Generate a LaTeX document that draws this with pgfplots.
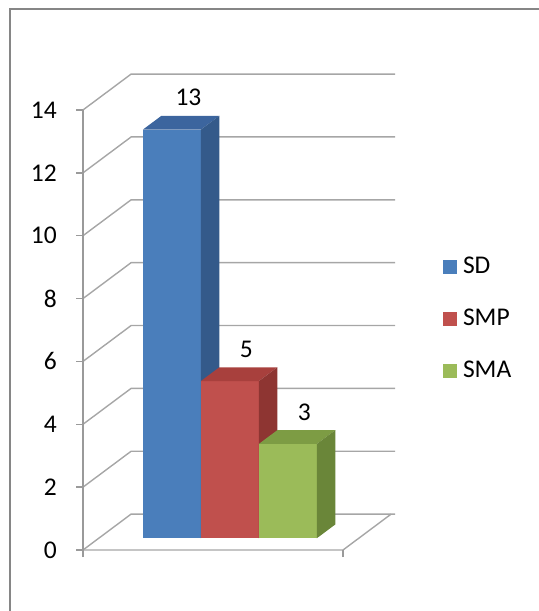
\documentclass[border=0pt]{standalone}
\usepackage{pgfplots}
\pgfplotsset{compat=1.18}
\usepackage{fontspec}
\setmainfont{Carlito}
\definecolor{sdF}{HTML}{4A7EBB}
\definecolor{sdS}{HTML}{345A8A}
\definecolor{sdT}{HTML}{3C659E}
\definecolor{smpF}{HTML}{C0504D}
\definecolor{smpS}{HTML}{8E3532}
\definecolor{smpT}{HTML}{A8403D}
\definecolor{smaF}{HTML}{9BBB59}
\definecolor{smaS}{HTML}{6A8639}
\definecolor{smaT}{HTML}{7D9C44}
\definecolor{gridc}{HTML}{A6A6A6}
\definecolor{axisc}{HTML}{9A9A9A}
\definecolor{framec}{HTML}{868686}
\begin{document}
\fontsize{25.5}{30}\selectfont
\begin{tikzpicture}
\begin{axis}[
  x={(58pt,0pt)}, y={(18.5pt,13.8pt)}, z={(0pt,31.43pt)},
  hide axis, clip=false,
  xmin=-1.431, xmax=7.862, ymin=0, ymax=2.6, zmin=-1.941, zmax=17.499,
  legend cell align=left,
  legend image code/.code={\fill[#1, draw=none] (0pt,-7pt) rectangle (14pt,7pt);},
  legend style={at={(axis cs:6.207,0,9.33)}, anchor=north west, draw=none, fill=none,
    inner sep=0pt, outer sep=0pt, row sep=31.6pt, column sep=6pt,
    font=\fontsize{25.5}{30}\selectfont, nodes={inner sep=0pt}},
]
% frame
\draw[framec, line width=1.5pt] (axis cs:-1.2586,0,-1.941) -- (axis cs:-1.2586,0,17.213) -- (axis cs:7.862,0,17.213);
\coordinate (BL) at (axis cs:-1.431,0,-1.941);
\coordinate (TR) at (axis cs:7.862,0,17.499);
% walls gridlines
\addplot3[gridc, line width=1.4pt, forget plot] coordinates {(0,0,0) (0,2.6,0) (4.55,2.6,0)};
\addplot3[gridc, line width=1.4pt, forget plot] coordinates {(0,0,2) (0,2.6,2) (4.55,2.6,2)};
\addplot3[gridc, line width=1.4pt, forget plot] coordinates {(0,0,4) (0,2.6,4) (4.55,2.6,4)};
\addplot3[gridc, line width=1.4pt, forget plot] coordinates {(0,0,6) (0,2.6,6) (4.55,2.6,6)};
\addplot3[gridc, line width=1.4pt, forget plot] coordinates {(0,0,8) (0,2.6,8) (4.55,2.6,8)};
\addplot3[gridc, line width=1.4pt, forget plot] coordinates {(0,0,10) (0,2.6,10) (4.55,2.6,10)};
\addplot3[gridc, line width=1.4pt, forget plot] coordinates {(0,0,12) (0,2.6,12) (4.55,2.6,12)};
\addplot3[gridc, line width=1.4pt, forget plot] coordinates {(0,0,14) (0,2.6,14) (4.55,2.6,14)};
% floor
\addplot3[gridc, line width=1.4pt, forget plot] coordinates {(0,0,0) (4.483,0,0) (4.483,2.6,0)};
% y axis and ticks
\addplot3[axisc, line width=1.5pt, forget plot] coordinates {(0,0,-0.223) (0,0,14)};
\addplot3[axisc, line width=1.5pt, forget plot] coordinates {(4.483,0,-0.223) (4.483,0,0)};
\addplot3[axisc, line width=1.5pt, forget plot] coordinates {(-0.12,0,0) (0,0,0)};
\addplot3[axisc, line width=1.5pt, forget plot] coordinates {(-0.12,0,2) (0,0,2)};
\addplot3[axisc, line width=1.5pt, forget plot] coordinates {(-0.12,0,4) (0,0,4)};
\addplot3[axisc, line width=1.5pt, forget plot] coordinates {(-0.12,0,6) (0,0,6)};
\addplot3[axisc, line width=1.5pt, forget plot] coordinates {(-0.12,0,8) (0,0,8)};
\addplot3[axisc, line width=1.5pt, forget plot] coordinates {(-0.12,0,10) (0,0,10)};
\addplot3[axisc, line width=1.5pt, forget plot] coordinates {(-0.12,0,12) (0,0,12)};
\addplot3[axisc, line width=1.5pt, forget plot] coordinates {(-0.12,0,14) (0,0,14)};
% tick labels
\node[anchor=east, inner sep=0pt] at (axis cs:-0.448,0,0) {0};
\node[anchor=east, inner sep=0pt] at (axis cs:-0.448,0,2) {2};
\node[anchor=east, inner sep=0pt] at (axis cs:-0.448,0,4) {4};
\node[anchor=east, inner sep=0pt] at (axis cs:-0.448,0,6) {6};
\node[anchor=east, inner sep=0pt] at (axis cs:-0.448,0,8) {8};
\node[anchor=east, inner sep=0pt] at (axis cs:-0.448,0,10) {10};
\node[anchor=east, inner sep=0pt] at (axis cs:-0.448,0,12) {12};
\node[anchor=east, inner sep=0pt] at (axis cs:-0.448,0,14) {14};
% bar SD = 13
\addplot3[fill=sdF, draw=none, forget plot] coordinates {(0.76,0.85,0) (1.76,0.85,0) (1.76,0.85,13) (0.76,0.85,13)} -- cycle;
\addplot3[fill=sdT, draw=none, forget plot] coordinates {(0.76,0.85,13) (1.76,0.85,13) (1.76,1.85,13) (0.76,1.85,13)} -- cycle;
\addplot3[fill=sdS, draw=none, forget plot] coordinates {(1.76,0.85,0) (1.76,1.85,0) (1.76,1.85,13) (1.76,0.85,13)} -- cycle;
% bar SMP = 5
\addplot3[fill=smpF, draw=none, forget plot] coordinates {(1.76,0.85,0) (2.76,0.85,0) (2.76,0.85,5) (1.76,0.85,5)} -- cycle;
\addplot3[fill=smpT, draw=none, forget plot] coordinates {(1.76,0.85,5) (2.76,0.85,5) (2.76,1.85,5) (1.76,1.85,5)} -- cycle;
\addplot3[fill=smpS, draw=none, forget plot] coordinates {(2.76,0.85,0) (2.76,1.85,0) (2.76,1.85,5) (2.76,0.85,5)} -- cycle;
% bar SMA = 3
\addplot3[fill=smaF, draw=none, forget plot] coordinates {(2.76,0.85,0) (3.76,0.85,0) (3.76,0.85,3) (2.76,0.85,3)} -- cycle;
\addplot3[fill=smaT, draw=none, forget plot] coordinates {(2.76,0.85,3) (3.76,0.85,3) (3.76,1.85,3) (2.76,1.85,3)} -- cycle;
\addplot3[fill=smaS, draw=none, forget plot] coordinates {(3.76,0.85,0) (3.76,1.85,0) (3.76,1.85,3) (3.76,0.85,3)} -- cycle;
% data labels
\node[anchor=south, inner sep=0pt, yshift=11pt] at (axis cs:1.26,1.75,13) {13};
\node[anchor=south, inner sep=0pt, yshift=11pt] at (axis cs:2.26,1.75,5) {5};
\node[anchor=south, inner sep=0pt, yshift=11pt] at (axis cs:3.26,1.75,3) {3};
% legend
\addlegendimage{fill=sdF}
\addlegendentry{SD}
\addlegendimage{fill=smpF}
\addlegendentry{SMP}
\addlegendimage{fill=smaF}
\addlegendentry{SMA}
\end{axis}
\pgfresetboundingbox
\useasboundingbox (BL) rectangle (TR);
\end{tikzpicture}
\end{document}
